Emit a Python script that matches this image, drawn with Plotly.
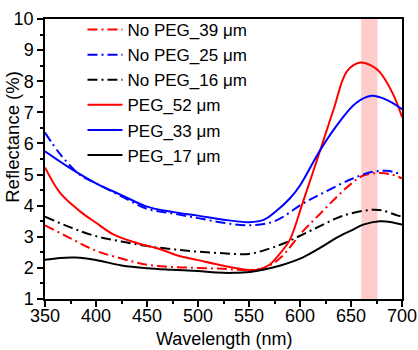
import plotly.graph_objects as go

# PEG_52 um (red solid)
wl_peg52 = [350, 365, 385, 400, 417, 440, 463, 480, 500, 525, 550, 560, 570, 580, 590, 603, 620, 633, 646, 659, 670, 678, 691, 700]
r_peg52 = [5.23, 4.4, 3.8, 3.45, 3.08, 2.8, 2.6, 2.4, 2.25, 2.07, 1.93, 1.95, 2.1, 2.45, 2.9, 4.13, 5.8, 7.1, 8.32, 8.6, 8.5, 8.3, 7.6, 6.85]
# PEG_33 um (blue solid)
wl_peg33 = [350, 375, 400, 425, 450, 475, 500, 525, 550, 565, 575, 590, 600, 620, 640, 655, 670, 685, 700]
r_peg33 = [5.75, 5.2, 4.72, 4.34, 3.97, 3.8, 3.68, 3.55, 3.47, 3.55, 3.78, 4.23, 4.65, 5.8, 6.75, 7.3, 7.53, 7.4, 7.1]
# PEG_17 um (black solid)
wl_peg17 = [350, 365, 380, 400, 425, 450, 475, 500, 518, 535, 551, 565, 580, 603, 620, 636, 650, 662, 678, 690, 700]
r_peg17 = [2.26, 2.32, 2.33, 2.25, 2.08, 1.99, 1.94, 1.9, 1.85, 1.84, 1.87, 1.95, 2.07, 2.34, 2.65, 2.97, 3.2, 3.39, 3.5, 3.47, 3.39]
# No PEG_39 um (red dash-dot)
wl_np39 = [350, 375, 400, 425, 450, 475, 500, 525, 550, 565, 580, 603, 620, 636, 650, 662, 678, 690, 700]
r_np39 = [3.37, 2.95, 2.55, 2.3, 2.1, 2.03, 2.0, 1.97, 1.93, 2.0, 2.3, 3.18, 3.75, 4.28, 4.7, 4.97, 5.05, 5.0, 4.88]
# No PEG_25 um (blue dash-dot)
wl_np25 = [350, 365, 385, 400, 425, 450, 475, 500, 525, 550, 575, 603, 625, 650, 670, 685, 700]
r_np25 = [6.35, 5.65, 4.97, 4.72, 4.3, 3.9, 3.75, 3.6, 3.45, 3.37, 3.5, 4.07, 4.45, 4.85, 5.08, 5.12, 5.0]
# No PEG_16 um (black dash-dot)
wl_np16 = [350, 375, 400, 425, 450, 475, 500, 525, 550, 570, 585, 603, 620, 636, 650, 668, 680, 696, 700]
r_np16 = [3.65, 3.3, 3.02, 2.85, 2.7, 2.6, 2.52, 2.47, 2.45, 2.62, 2.8, 3.08, 3.35, 3.6, 3.75, 3.86, 3.85, 3.68, 3.65]

band = [660, 676]
x_title = "Wavelength (nm)"
y_title = "Reflectance (%)"

series = [
    ("No PEG_39 μm", wl_np39, r_np39, "#ff0000", "dashdot"),
    ("No PEG_25 μm", wl_np25, r_np25, "#0000ff", "dashdot"),
    ("No PEG_16 μm", wl_np16, r_np16, "#000000", "dashdot"),
    ("PEG_52 μm", wl_peg52, r_peg52, "#ff0000", "solid"),
    ("PEG_33 μm", wl_peg33, r_peg33, "#0000ff", "solid"),
    ("PEG_17 μm", wl_peg17, r_peg17, "#000000", "solid"),
]

FONT = "Liberation Sans, Arial, sans-serif"
fig = go.Figure()
for name, x, y, c, d in series:
    dash = "10px,4px,2px,4px" if d == "dashdot" else "solid"
    fig.add_trace(go.Scatter(x=x, y=y, mode="lines", name=name,
                             line=dict(color=c, width=2, dash=dash, shape="spline", smoothing=1.0)))

fig.add_shape(type="rect", xref="x", yref="paper", x0=band[0], x1=band[1], y0=0, y1=1,
              fillcolor="rgba(255,170,170,0.6)", line_width=0, layer="below")

fig.add_annotation(text=x_title, xref="paper", yref="paper", x=0.5, y=-0.143,
                   xanchor="center", yanchor="middle", showarrow=False,
                   font=dict(family=FONT, size=18, color="black"))
fig.add_annotation(text=y_title, xref="paper", yref="paper", x=-0.092, y=0.58,
                   xanchor="center", yanchor="middle", showarrow=False, textangle=-90,
                   font=dict(family=FONT, size=18.5, color="black"))

axis_common = dict(showline=True, linecolor="black", linewidth=1.5, mirror=True,
                   ticks="outside", ticklen=6, tickwidth=1.5, tickcolor="black",
                   showgrid=False, zeroline=False, automargin=False,
                   tickfont=dict(family=FONT, size=18, color="black"))
fig.update_layout(
    width=418, height=350,
    margin=dict(l=45, r=16, t=13, b=51),
    paper_bgcolor="white", plot_bgcolor="white",
    font=dict(family=FONT, size=18, color="black"),
    xaxis=dict(range=[350, 700], dtick=50, tick0=350, ticklabelstandoff=-6,
               minor=dict(ticks="outside", ticklen=3, tickwidth=1.5, dtick=25, tickcolor="black"),
               **axis_common),
    yaxis=dict(range=[1, 10], dtick=1,
               minor=dict(ticks="outside", ticklen=3, tickwidth=1.5, dtick=0.5, tickcolor="black"),
               **axis_common),
    legend=dict(x=0.105, y=1.025, xanchor="left", yanchor="top", bgcolor="rgba(0,0,0,0)",
                font=dict(family=FONT, size=17), tracegroupgap=0, itemwidth=35),
    showlegend=True,
)
fig.write_html("out.html")
